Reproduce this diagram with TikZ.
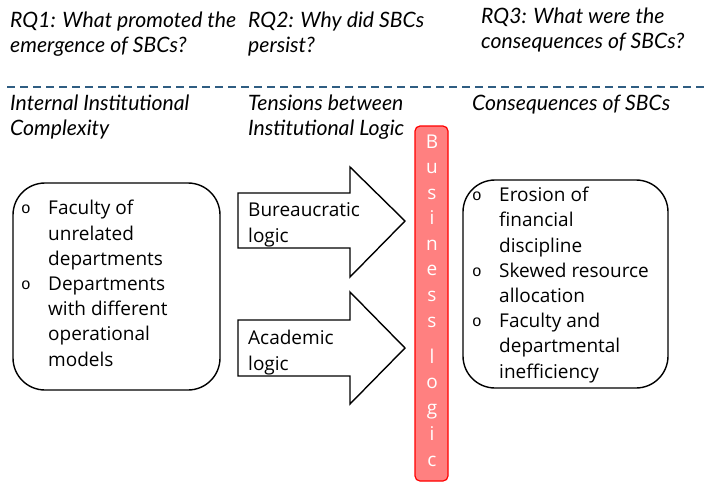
\documentclass[tikz,border=0pt]{standalone}
\usepackage{fontspec}
\setmainfont{Open Sans}
\newfontfamily\hdfont{Lato}
\newfontfamily\bulfont{Liberation Mono}
\definecolor{dashblue}{HTML}{2F5D82}
\definecolor{barfill}{HTML}{FF8080}
\newcommand{\bul}{\makebox[27pt][l]{\raisebox{1pt}{\bulfont\fontsize{16}{16}\selectfont o}}}
\newcommand{\ind}{\hspace*{27pt}}
\tikzset{
  hdtext/.style={anchor=base west,inner sep=0pt,align=left,font=\hdfont\itshape\fontsize{21.2}{25}\selectfont},
  bodytext/.style={anchor=base west,inner sep=0pt,align=left,font=\fontsize{19}{25.2}\selectfont},
  roundbox/.style={draw=black,line width=1.4pt,rounded corners=32pt},
  blockarrow/.style={draw=black,line width=1.4pt,fill=white,line join=miter},
  barletter/.style={anchor=base,inner sep=0pt,text=white,font=\fontsize{19}{19}\selectfont}
}
\begin{document}
\begin{tikzpicture}[x=1pt,y=-1pt]
\useasboundingbox (0,0) rectangle (704,482);
% headers (anchor = baseline of last line)
\node[hdtext] (rq1) at (10,52) {RQ1: What promoted the\\emergence of SBCs?};
\node[hdtext] (rq2) at (248,52) {RQ2: Why did SBCs\\persist?};
\node[hdtext] (rq3) at (481,48) {RQ3: What were the\\consequences of SBCs?};
\coordinate (dl) at (7,87);
\coordinate (dr) at (704,87);
\draw[dashblue,line width=1.6pt,dash pattern=on 8pt off 5pt] (dl) -- (dr);
\node[hdtext] (h1) at (10,135) {Internal Institutional\\Complexity};
\node[hdtext] (h2) at (248,135) {Tensions between\\Institutional Logic};
\node[hdtext] (h3) at (472,110) {Consequences of SBCs};
% left box
\draw[roundbox] (13,183) rectangle (220,390);
\node[bodytext] (left) at (21,366) {\bul Faculty of\\\ind unrelated\\\ind departments\\\bul Departments\\\ind with different\\\ind operational\\\ind models};
% arrows
\draw[blockarrow] (238,193) -- (350,193) -- (350,167) -- (405,221) -- (350,277) -- (350,248) -- (238,248) -- cycle;
\node[bodytext] (bur) at (248,242) {Bureaucratic\\logic};
\draw[blockarrow] (238,320) -- (350,320) -- (350,292) -- (405,348) -- (350,404) -- (350,376) -- (238,376) -- cycle;
\node[bodytext] (aca) at (248,370) {Academic\\logic};
% business logic bar
\draw[red,fill=barfill,line width=1.2pt,rounded corners=5pt] (415,126) rectangle (448,481);
\foreach \l/\yy [count=\i] in {B/148,u/173,s/199,i/224,n/250,e/275,s/301,s/327,l/363,o/388,g/414,i/440,c/466}{
  \node[barletter] (bl\i) at (432,\yy) {\l};
}
% right box
\draw[roundbox] (463,180) rectangle (668,388);
\node[bodytext] (right) at (472,378) {\bul Erosion of\\\ind financial\\\ind discipline\\\bul Skewed resource\\\ind allocation\\\bul Faculty and\\\ind departmental\\\ind inefficiency};
\end{tikzpicture}
\end{document}
